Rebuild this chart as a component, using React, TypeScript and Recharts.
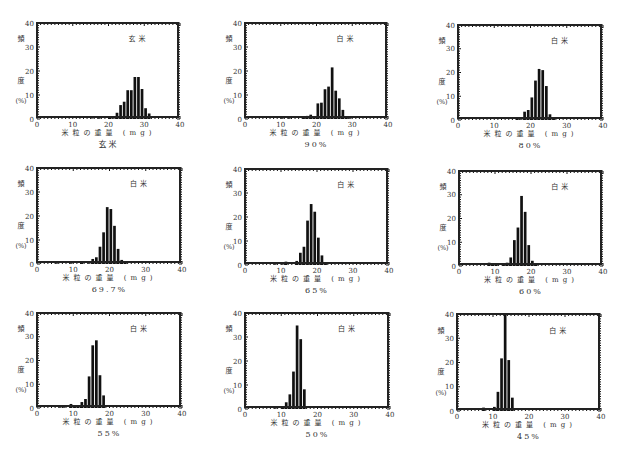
import React from 'react';
import { BarChart, Bar, XAxis, YAxis } from 'recharts';

// frequency (%) per 1 mg bin, as [bin start (mg), percent]
const brownRice: [number, number][] = [
  [15, 0.2], [17, 0.3], [20, 0.5], [21, 0.3], [22, 2.6], [23, 5.8], [24, 7.2], [25, 12],
  [26, 12], [27, 17.5], [28, 17.5], [29, 12.5], [30, 4.5], [31, 2.3],
];
const polish90: [number, number][] = [
  [10, 0.3], [12, 0.3], [16, 0.5], [17, 1.3], [18, 1.8], [19, 0.7], [20, 6.5], [21, 6.8],
  [22, 12.4], [23, 13.5], [24, 21.5], [25, 11.8], [26, 8.6], [27, 3.8], [28, 0.7], [29, 0.3],
];
const polish80: [number, number][] = [
  [16, 1], [17, 0.3], [18, 3.5], [19, 4.2], [20, 9.5], [21, 16.6], [22, 21.5], [23, 21],
  [24, 14.3], [25, 2.4], [26, 1],
];
const polish70: [number, number][] = [
  [5, 0.3], [9, 0.3], [12, 0.4], [14, 0.3], [15, 2.1], [16, 2.8], [17, 7.2], [18, 13.2],
  [19, 23.7], [20, 22.9], [21, 15.9], [22, 6.3], [23, 1.7], [24, 0.7],
];
const polish65: [number, number][] = [
  [8, 0.3], [10, 0.3], [11, 1.4], [14, 1.7], [15, 5.1], [16, 7.6], [17, 18.5], [18, 25.4],
  [19, 22.2], [20, 11.4], [21, 4], [22, 0.7],
];
const polish60: [number, number][] = [
  [8, 1.4], [9, 0.8], [10, 0.5], [12, 0.5], [13, 1.4], [14, 3.6], [15, 10.9], [16, 16.2],
  [17, 29.5], [18, 22.8], [19, 8.8], [20, 2.2], [21, 0.5],
];
const polish55: [number, number][] = [
  [6, 0.3], [7, 0.3], [9, 1.7], [10, 1], [11, 1], [12, 2.5], [13, 3.8], [14, 13.3],
  [15, 26.4], [16, 28.5], [17, 13.8], [18, 5.3],
];
const polish50: [number, number][] = [
  [8, 0.3], [10, 0.5], [11, 2.8], [12, 6.1], [13, 15.6], [14, 34.8], [15, 29.1], [16, 8.2],
];
const polish45: [number, number][] = [
  [7, 1.4], [10, 1.7], [11, 7.9], [12, 21.7], [13, 40], [14, 21], [15, 5.5],
];

const panelTitles = ['玄米', '90%', '80%', '69.7%', '65%', '60%', '55%', '50%', '45%'];
const sampleLabels = ['玄米', '白米', '白米', '白米', '白米', '白米', '白米', '白米', '白米'];
const allTicks = Array.from({ length: 41 }, (_, i) => i);

const FONT = '"DejaVu Serif", "Noto Sans CJK JP", serif';
const INK = '#111';

interface PanelProps {
  left: number;
  top: number;
  plotW: number;
  plotH: number;
  bins: [number, number][];
  title: string;
  label: string;
}

const ML = 25;
const MT = 5;

const Panel: React.FC<PanelProps> = ({ left, top, plotW, plotH, bins, title, label }) => {
  const data = bins.map(([b, v]) => ({ x: b + 0.5, pct: v }));
  const W = plotW + ML + 5;
  const H = plotH + MT + 40;

  // tick marks drawn as thin filled rects, pointing into the frame
  const XTick = (props: any) => {
    const { x, y, payload } = props;
    const v = payload.value;
    const len = v % 10 === 0 ? 3 : 2;
    return (
      <g>
        <rect x={x - 0.5} y={y - len} width={1} height={len} fill={INK} />
        <rect x={x - 0.5} y={y - plotH} width={1} height={len} fill={INK} />
        {v % 10 === 0 && (
          <text x={x} y={y + 8} textAnchor="middle" fontSize={7} fill="#333" fontFamily={FONT}>
            {v}
          </text>
        )}
      </g>
    );
  };

  const YTick = (props: any) => {
    const { x, y, payload } = props;
    const v = payload.value;
    const len = v % 10 === 0 ? 3 : 2;
    return (
      <g>
        <rect x={x} y={y - 0.5} width={len} height={1} fill={INK} />
        <rect x={x + plotW - len} y={y - 0.5} width={len} height={1} fill={INK} />
        {v % 10 === 0 && (
          <text x={x - 3} y={y + 2.5} textAnchor="end" fontSize={7} fill="#333" fontFamily={FONT}>
            {v}
          </text>
        )}
      </g>
    );
  };

  const txt = { fontSize: 7, fill: '#333', fontFamily: FONT };

  return (
    <div style={{ position: 'absolute', left: left - ML, top: top - MT, width: W, height: H }}>
      <BarChart
        width={W}
        height={plotH + MT + 15}
        data={data}
        margin={{ top: MT, right: 5, left: 0, bottom: 0 }}
        barCategoryGap={0}
      >
        <XAxis
          dataKey="x"
          type="number"
          domain={[0, 40]}
          ticks={allTicks}
          interval={0}
          height={15}
          axisLine={false}
          tickLine={false}
          tickSize={0}
          tickMargin={0}
          tick={<XTick />}
        />
        <YAxis
          type="number"
          domain={[0, 40]}
          ticks={allTicks}
          interval={0}
          width={ML}
          axisLine={false}
          tickLine={false}
          tickSize={0}
          tickMargin={0}
          tick={<YTick />}
        />
        <Bar dataKey="pct" fill="#111" barSize={2.7} isAnimationActive={false} />
      </BarChart>
      {/* plot frame */}
      <div
        style={{
          position: 'absolute',
          left: ML - 1,
          top: MT - 1,
          width: plotW,
          height: plotH,
          border: '2px solid #222',
          boxSizing: 'border-box',
          pointerEvents: 'none',
        }}
      />
      <svg
        width={W}
        height={H}
        style={{ position: 'absolute', left: 0, top: 0, pointerEvents: 'none' }}
      >
        <text x={ML + plotW * 0.71} y={MT + plotH * 0.16 + 3} textAnchor="middle" letterSpacing={3} {...txt}>
          {label}
        </text>
        <text x={ML - 16} y={MT + plotH * 0.16 + 3} textAnchor="middle" {...txt}>頻</text>
        <text x={ML - 16} y={MT + plotH * 0.59 + 3} textAnchor="middle" {...txt}>度</text>
        <text x={ML - 16} y={MT + plotH * 0.8 + 3} textAnchor="middle" {...txt} fontSize={6.5}>(%)</text>
        <text x={ML + plotW / 2} y={MT + plotH + 16} textAnchor="middle" letterSpacing={4} {...txt}>
          米粒の重量 (mg)
        </text>
        <text x={ML + plotW / 2} y={MT + plotH + 28} textAnchor="middle" letterSpacing={2} {...txt} fontSize={8}>
          {title}
        </text>
      </svg>
    </div>
  );
};

const layout = [
  { left: 37, top: 23, plotW: 143, plotH: 96, bins: brownRice },
  { left: 245, top: 23, plotW: 143, plotH: 96, bins: polish90 },
  { left: 458, top: 25, plotW: 145, plotH: 95, bins: polish80 },
  { left: 37, top: 168, plotW: 145, plotH: 96, bins: polish70 },
  { left: 245, top: 169, plotW: 144, plotH: 96, bins: polish65 },
  { left: 459, top: 171, plotW: 144, plotH: 95, bins: polish60 },
  { left: 37, top: 313, plotW: 145, plotH: 95, bins: polish55 },
  { left: 245, top: 313, plotW: 145, plotH: 96, bins: polish50 },
  { left: 457, top: 314, plotW: 144, plotH: 97, bins: polish45 },
];

export default function App() {
  return (
    <div style={{ position: 'absolute', left: 0, top: 0, width: 620, height: 453, background: '#fff' }}>
      {layout.map((p, i) => (
        <Panel key={i} {...p} title={panelTitles[i]} label={sampleLabels[i]} />
      ))}
    </div>
  );
}
